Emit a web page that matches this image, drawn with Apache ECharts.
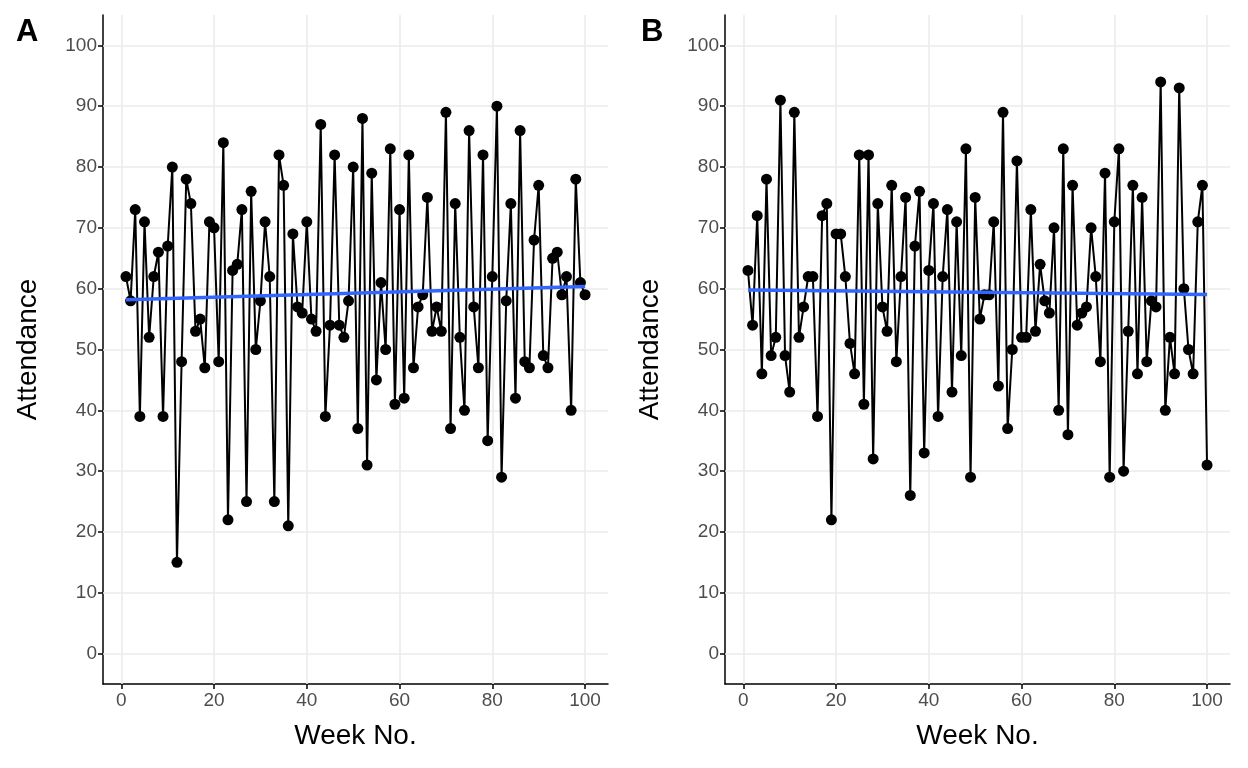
<!DOCTYPE html>
<html>
<head>
<meta charset="utf-8">
<script src="https://cdn.jsdelivr.net/npm/echarts@6/dist/echarts.min.js"></script>
<style>
html,body{margin:0;padding:0;background:#fff;}
#c{width:1248px;height:768px;}
</style>
</head>
<body>
<div id="c"></div>
<script>
const attendanceA = [62,58,73,39,71,52,62,66,39,67,80,15,48,78,74,53,55,47,71,70,
48,84,22,63,64,73,25,76,50,58,71,62,25,82,77,21,69,57,56,71,
55,53,87,39,54,82,54,52,58,80,37,88,31,79,45,61,50,83,41,73,
42,82,47,57,59,75,53,57,53,89,37,74,52,40,86,57,47,82,35,62,
90,29,58,74,42,86,48,47,68,77,49,47,65,66,59,62,40,78,61,59];
const attendanceB = [63,54,72,46,78,49,52,91,49,43,89,52,57,62,62,39,72,74,22,69,
69,62,51,46,82,41,82,32,74,57,53,77,48,62,75,26,67,76,33,63,
74,39,62,73,43,71,49,83,29,75,55,59,59,71,44,89,37,50,81,52,
52,73,53,64,58,56,70,40,83,36,77,54,56,57,70,62,48,79,29,71,
83,30,53,77,46,75,48,58,57,94,40,52,46,93,60,50,46,71,77,31];
const weeks = attendanceA.map((_, i) => i + 1);
const xTicks = [0,20,40,60,80,100];
const yTicks = [0,10,20,30,40,50,60,70,80,90,100];
const panelLabels = ['A','B'];
const xTitle = 'Week No.';
const yTitle = 'Attendance';

function fit(ys){
  const n = ys.length;
  let sx=0, sy=0, sxx=0, sxy=0;
  for(let i=0;i<n;i++){const x=weeks[i]; sx+=x; sy+=ys[i]; sxx+=x*x; sxy+=x*ys[i];}
  const b=(n*sxy-sx*sy)/(n*sxx-sx*sx);
  const a=(sy-b*sx)/n;
  const x0=weeks[0], x1=weeks[n-1];
  return [[x0,a+b*x0],[x1,a+b*x1]];
}

const font = 'Liberation Sans, Arial, sans-serif';
const lefts = [103, 725];
const gridW = 505, gridTop = 15, gridH = 669;
const datasets = [attendanceA, attendanceB];

const grids = [], xAxes = [], yAxes = [], series = [], titles = [];
for (let p=0;p<2;p++){
  grids.push({left: lefts[p], top: gridTop, width: gridW, height: gridH, containLabel:false});
  xAxes.push({
    type:'value', gridIndex:p, min:-3.95, max:104.95,
    name: xTitle, nameLocation:'middle', nameGap:38,
    nameTextStyle:{fontFamily:font, fontSize:28, color:'#000'},
    axisLine:{show:true, onZero:false, lineStyle:{color:'#000', width:1.5}},
    axisTick:{show:true, length:5, customValues:xTicks, lineStyle:{color:'#000', width:1.5}},
    axisLabel:{customValues:xTicks, fontFamily:font, fontSize:19, color:'#4D4D4D', margin:7},
    splitLine:{show:false}
  });
  yAxes.push({
    type:'value', gridIndex:p, min:-5, max:105,
    name: yTitle, nameLocation:'middle', nameGap:61, nameRotate:90,
    nameTextStyle:{fontFamily:font, fontSize:28, color:'#000'},
    axisLine:{show:true, onZero:false, lineStyle:{color:'#000', width:1.5}},
    axisTick:{show:true, length:5, customValues:yTicks, lineStyle:{color:'#000', width:1.5}},
    axisLabel:{customValues:yTicks, fontFamily:font, fontSize:19, color:'#4D4D4D', margin:6},
    splitLine:{show:false}
  });
  const gridLines = yTicks.map(v=>({yAxis:v})).concat(xTicks.map(v=>({xAxis:v})));
  series.push({
    type:'line', xAxisIndex:p, yAxisIndex:p, z:2,
    data: weeks.map((w,i)=>[w, datasets[p][i]]),
    symbol:'circle', symbolSize:11, showSymbol:true,
    itemStyle:{color:'#000'},
    lineStyle:{color:'#000', width:2},
    silent:true, animation:false
  });
  series.push({
    type:'line', xAxisIndex:p, yAxisIndex:p, z:3,
    data: fit(datasets[p]),
    symbol:'none', lineStyle:{color:'#3366FF', width:3.5},
    silent:true, animation:false,
    markLine:{
      z:1, silent:true, symbol:['none','none'], animation:false,
      label:{show:false},
      lineStyle:{color:'#EBEBEB', width:1.6, type:'solid'},
      data: gridLines
    }
  });
  titles.push({text: panelLabels[p], left: p===0 ? 11 : 636, top: 12,
    textStyle:{fontFamily:font, fontSize:31, fontWeight:'bold', color:'#000'}});
}

const chart = echarts.init(document.getElementById('c'), null, {renderer:'canvas'});
chart.setOption({
  backgroundColor:'#fff',
  animation:false,
  title: titles,
  grid: grids,
  xAxis: xAxes,
  yAxis: yAxes,
  series: series
});
</script>
</body>
</html>
